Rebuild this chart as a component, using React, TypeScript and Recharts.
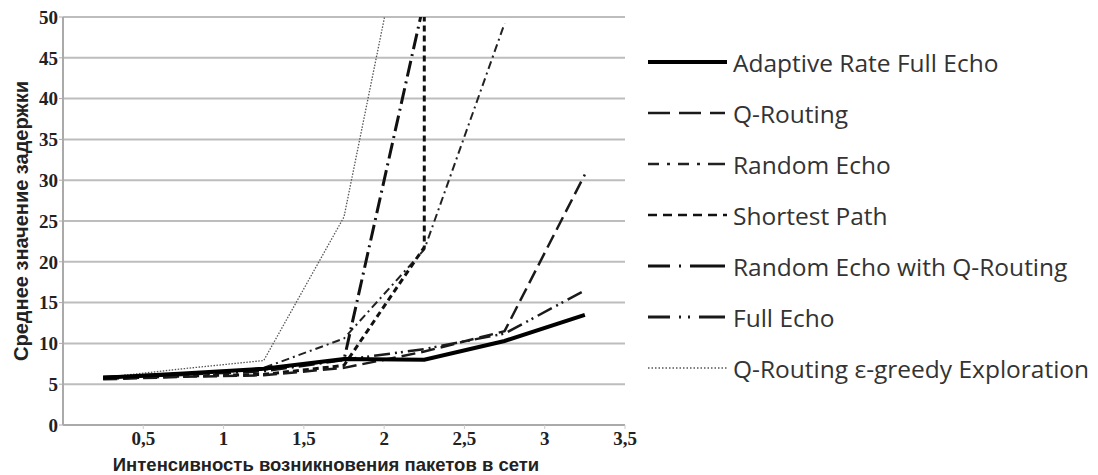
import React from 'react';
import { LineChart, Line, XAxis, YAxis, CartesianGrid, Legend, Label } from 'recharts';

// ---- data ----
const xValues = [0.25, 0.75, 1.25, 1.75, 2.25, 2.75, 3.25];
const adaptiveRateFullEcho = [5.8, 6.3, 6.9, 8.1, 8.0, 10.3, 13.5];
const qRouting = [5.6, 5.9, 6.1, 7.0, 9.0, 11.5, 30.7];
const randomEcho = [5.8, 6.1, 7.0, 10.6, 21.5, 49.2];
const shortestPathX = [0.25, 0.75, 1.25, 1.75, 2.25, 2.25];
const shortestPath = [5.7, 6.0, 6.2, 7.3, 21.8, 60];
const randomEchoQRouting = [5.8, 6.2, 6.6, 8.0, 52];
const fullEcho = [5.9, 6.3, 6.8, 8.0, 9.3, 11.2, 16.5];
const qRoutingEpsGreedy = [5.8, 6.9, 7.9, 25.5, 74];

const xTicks = [0.5, 1, 1.5, 2, 2.5, 3, 3.5];
const yTicks = [0, 5, 10, 15, 20, 25, 30, 35, 40, 45, 50];

const seriesNames = [
  'Adaptive Rate Full Echo',
  'Q-Routing',
  'Random Echo',
  'Shortest Path',
  'Random Echo with Q-Routing',
  'Full Echo',
  'Q-Routing \u03b5-greedy Exploration',
];

const build = (xs: number[], ys: number[]) => ys.map((y, i) => ({ x: xs[i], y }));

const seriesData = [
  build(xValues, adaptiveRateFullEcho),
  build(xValues, qRouting),
  build(xValues, randomEcho),
  build(shortestPathX, shortestPath),
  build(xValues, randomEchoQRouting),
  build(xValues, fullEcho),
  build(xValues, qRoutingEpsGreedy),
];

// ---- styles ----
const styles = [
  { stroke: '#000', width: 4, dash: undefined as string | undefined, legendDash: undefined as string | undefined, legendWidth: 4 },
  { stroke: '#1a1a1a', width: 2.5, dash: '14 6', legendDash: '22 9 22 9 15 100', legendWidth: 2.5 },
  { stroke: '#222', width: 2, dash: '8 4 2 4', legendDash: '11 8 3 8 11 8 3 8 17 100', legendWidth: 2.5 },
  { stroke: '#111', width: 3, dash: '6 4', legendDash: '9 6', legendWidth: 2.5 },
  { stroke: '#111', width: 3, dash: '16 5 2 5', legendDash: '22 9 2 9 35 100', legendWidth: 3 },
  { stroke: '#1a1a1a', width: 2.5, dash: '16 5 2 4 2 5', legendDash: '22 9 2 7 2 9 26 100', legendWidth: 3 },
  { stroke: '#555', width: 1.3, dash: '1.5 1.5', legendDash: '1.5 2', legendWidth: 1.3 },
];

const drawOrder = [6, 2, 4, 3, 5, 1, 0];

const renderLegend = () => (
  <svg width={460} height={370}>
    {seriesNames.map((name, i) => {
      const y = 22 + i * 51;
      const s = styles[i];
      return (
        <g key={name}>
          <line x1={8} x2={87} y1={y} y2={y} stroke={s.stroke} strokeWidth={s.legendWidth} strokeDasharray={s.legendDash} />
          <text x={93} y={y} dominantBaseline="central" fontFamily="'Open Sans', sans-serif" fontSize={24.5} fill="#333">
            {name}
          </text>
        </g>
      );
    })}
  </svg>
);

const tickFont = { fontFamily: "'Liberation Serif', serif", fontWeight: 700, fontSize: 19, fill: '#222' };

export default function App() {
  return (
    <div style={{ position: 'absolute', left: 0, top: 0, background: '#fff' }}>
      <LineChart width={1098} height={475} margin={{ top: 17, right: 473, bottom: 0, left: 0 }}>
        <CartesianGrid vertical={false} stroke="#bdbdbd" strokeWidth={2} />
        <XAxis
          type="number"
          dataKey="x"
          domain={[0, 3.5]}
          ticks={xTicks}
          allowDataOverflow
          height={50}
          tickFormatter={(v: number) => String(v).replace('.', ',')}
          tick={tickFont}
          axisLine={{ stroke: '#aaa', strokeWidth: 2 }}
          tickLine={{ stroke: '#ccc' }}
          tickSize={4}
          tickMargin={3}
        >
          <Label
            value="Интенсивность возникновения пакетов в сети"
            position="insideBottom"
            offset={4}
            dx={-18}
            style={{ fontFamily: "'Liberation Sans', sans-serif", fontWeight: 700, fontSize: 18.5, fill: '#222' }}
          />
        </XAxis>
        <YAxis
          type="number"
          domain={[0, 50]}
          ticks={yTicks}
          allowDataOverflow
          width={63}
          tick={tickFont}
          axisLine={{ stroke: '#aaa', strokeWidth: 2 }}
          tickLine={{ stroke: '#aaa' }}
          tickSize={4}
          tickMargin={1}
        >
          <Label
            value="Среднее значение задержки"
            angle={-90}
            position="insideLeft"
            offset={21}
            textAnchor="middle"
            style={{ fontFamily: "'Liberation Sans', sans-serif", fontWeight: 700, fontSize: 20, fill: '#222', textAnchor: 'middle' }}
          />
        </YAxis>
        <Legend
          layout="vertical"
          align="center"
          verticalAlign="middle"
          content={renderLegend}
          wrapperStyle={{ left: 640, top: 40, width: 460, height: 370 }}
        />
        {drawOrder.map((i) => (
          <Line
            key={seriesNames[i]}
            data={seriesData[i]}
            dataKey="y"
            name={seriesNames[i]}
            type="linear"
            stroke={styles[i].stroke}
            strokeWidth={styles[i].width}
            strokeDasharray={styles[i].dash}
            dot={false}
            activeDot={false}
            isAnimationActive={false}
          />
        ))}
      </LineChart>
    </div>
  );
}
